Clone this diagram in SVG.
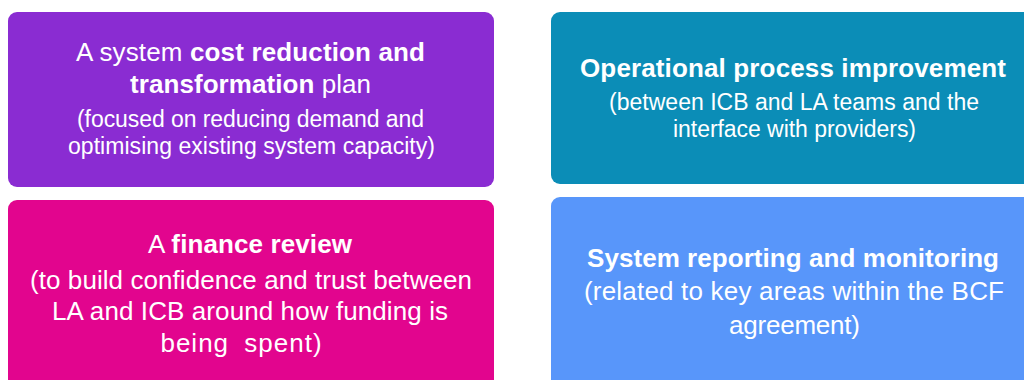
<svg xmlns="http://www.w3.org/2000/svg" width="1024" height="380" viewBox="0 0 1024 380">
  <style>
    text { font-family: "Liberation Sans", Arial, sans-serif; font-size: 26px; fill: #ffffff; text-anchor: middle; }
    .b { font-weight: bold; }
    .s { font-size: 23px; }
  </style>
  <rect x="0" y="0" width="1024" height="380" fill="#ffffff"/>
  <g id="cost-reduction">
    <rect x="8" y="12" width="486" height="175" rx="9" fill="#8A2CD2"/>
    <text x="250.5" y="61" textLength="349" lengthAdjust="spacing">A system <tspan class="b">cost reduction and</tspan></text>
    <text x="250.5" y="93" textLength="241" lengthAdjust="spacing"><tspan class="b">transformation</tspan> plan</text>
    <text class="s" x="250.5" y="127" textLength="347" lengthAdjust="spacing">(focused on reducing demand and</text>
    <text class="s" x="251.5" y="154" textLength="367" lengthAdjust="spacing">optimising existing system capacity)</text>
  </g>
  <g id="operational-process">
    <rect x="551" y="12" width="490" height="172" rx="9" fill="#0B8DB7"/>
    <text class="b" x="793" y="77" textLength="426" lengthAdjust="spacing">Operational process improvement</text>
    <text class="s" x="794" y="110" textLength="370" lengthAdjust="spacing">(between ICB and LA teams and the</text>
    <text class="s" x="794.5" y="137" textLength="243" lengthAdjust="spacing">interface with providers)</text>
  </g>
  <g id="finance-review">
    <rect x="8" y="200" width="486" height="200" rx="9" fill="#E2058E"/>
    <text x="250" y="253" textLength="204" lengthAdjust="spacing">A <tspan class="b">finance review</tspan></text>
    <text x="251" y="289" textLength="442" lengthAdjust="spacing">(to build confidence and trust between</text>
    <text x="250" y="320" textLength="396" lengthAdjust="spacing">LA and ICB around how funding is</text>
    <text x="241.5" y="352" style="word-spacing:7px;letter-spacing:1px">being spent)</text>
  </g>
  <g id="system-reporting">
    <rect x="551" y="197" width="490" height="200" rx="9" fill="#5896FA"/>
    <text class="b" x="793" y="267" textLength="412" lengthAdjust="spacing">System reporting and monitoring</text>
    <text x="794" y="300" textLength="420" lengthAdjust="spacing">(related to key areas within the BCF</text>
    <text x="794.5" y="334" textLength="131" lengthAdjust="spacing">agreement)</text>
  </g>
</svg>
